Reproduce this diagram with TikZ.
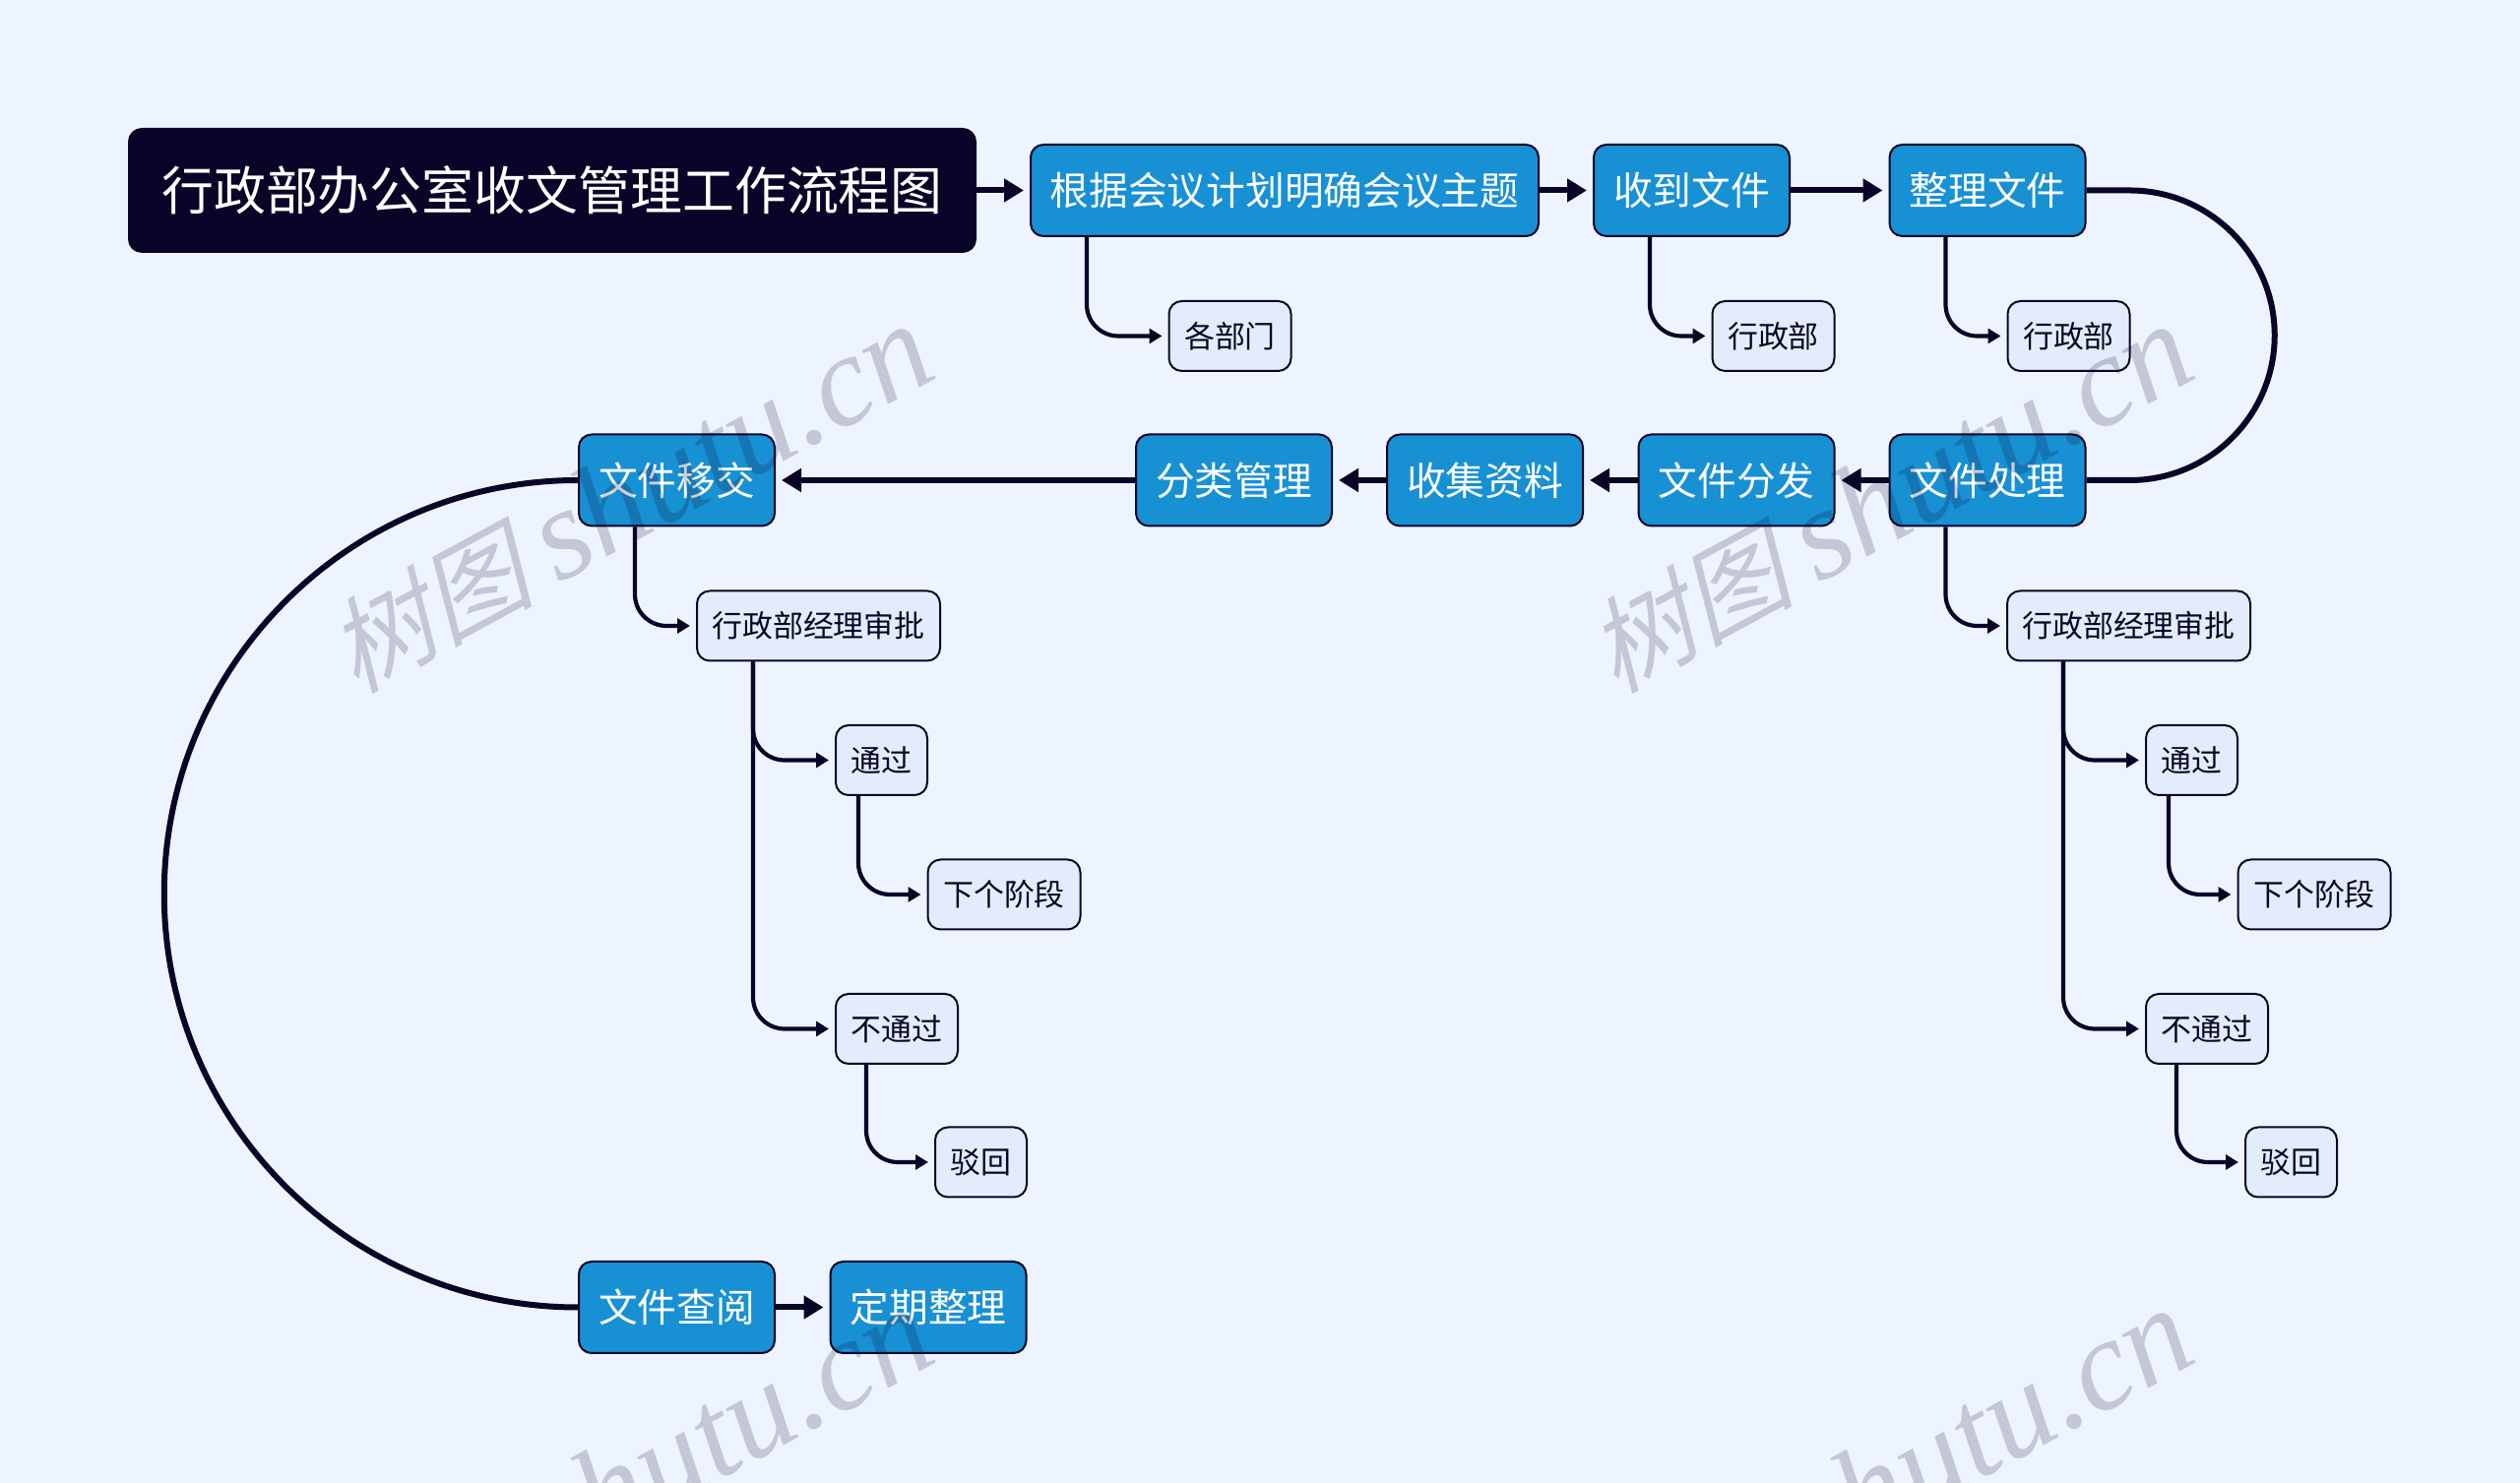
\documentclass[tikz,border=0pt]{standalone}
\usepackage{fontspec}
\setmainfont{Noto Sans CJK SC}
\newfontfamily\markcjk[FakeSlant=0.25]{Noto Sans CJK SC}
\newfontfamily\marklatin{Liberation Serif}
\usetikzlibrary{shapes, arrows.meta}
\definecolor{pagebg}{HTML}{EEF4FF}
\definecolor{ink}{HTML}{0A0528}
\definecolor{mainblue}{HTML}{1890D4}
\definecolor{subfill}{HTML}{E3ECFB}

\begin{document}
\begin{tikzpicture}[
    titlebox/.style = {draw=ink, fill=ink, text=white, rounded corners=0.13cm, line width=0.02cm, inner sep=0, minimum height=1.25cm, font=\fontsize{15.05pt}{18pt}\selectfont},
    mainbox/.style = {draw=ink, fill=mainblue, text=white, rounded corners=0.13cm, line width=0.02cm, inner sep=0, minimum height=0.93cm, font=\fontsize{11.3pt}{14pt}\selectfont},
    subbox/.style = {draw=ink, fill=subfill, text=ink, rounded corners=0.13cm, line width=0.02cm, inner sep=0, minimum height=0.71cm, font=\fontsize{8.8pt}{11pt}\selectfont},
    mainline/.style = {draw=ink, line width=0.06cm, -{Triangle[length=0.2cm, width=0.23cm]}, shorten >=0.06cm},
    curveline/.style = {draw=ink, line width=0.06cm},
    subline/.style = {draw=ink, line width=0.042cm, rounded corners=0.32cm, -{Triangle[length=0.13cm, width=0.15cm]}, shorten >=0.06cm},
    wmark/.style = {rotate=28.5, text=ink, text opacity=0.19, inner sep=0}]
                \useasboundingbox (0, 0) rectangle (25.6, 15.07);
                \fill[pagebg] (0, 0) rectangle (25.6, 15.07);
                \clip (0, 0) rectangle (25.6, 15.07);

                \node[titlebox, minimum width=8.6cm] at (5.61, 13.135) (title) {行政部办公室收文管理工作流程图};
                \node[mainbox, minimum width=5.16cm] at (13.05, 13.135) (plan) {根据会议计划明确会议主题};
                \node[mainbox, minimum width=1.99cm] at (17.185, 13.135) (receive) {收到文件};
                \node[mainbox, minimum width=1.99cm] at (20.19, 13.135) (sort) {整理文件};
                \node[mainbox, minimum width=1.99cm] at (20.19, 10.19) (handle) {文件处理};
                \node[mainbox, minimum width=1.99cm] at (17.64, 10.19) (send) {文件分发};
                \node[mainbox, minimum width=1.99cm] at (15.085, 10.19) (collect) {收集资料};
                \node[mainbox, minimum width=1.99cm] at (12.535, 10.19) (classify) {分类管理};
                \node[mainbox, minimum width=1.99cm] at (6.875, 10.19) (transfer) {文件移交};
                \node[mainbox, minimum width=1.99cm] at (6.875, 1.785) (consult) {文件查阅};
                \node[mainbox, minimum width=1.99cm] at (9.43, 1.785) (tidy) {定期整理};

                \node[subbox, minimum width=1.24cm] at (12.495, 11.655) (depts) {各部门};
                \node[subbox, minimum width=1.24cm] at (18.015, 11.655) (adminA) {行政部};
                \node[subbox, minimum width=1.24cm] at (21.015, 11.655) (adminB) {行政部};

                \node[subbox, minimum width=2.47cm] at (21.625, 8.71) (approveR) {行政部经理审批};
                \node[subbox, minimum width=0.93cm] at (22.265, 7.345) (passR) {通过};
                \node[subbox, minimum width=1.55cm] at (23.51, 5.98) (nextR) {下个阶段};
                \node[subbox, minimum width=1.24cm] at (22.42, 4.615) (failR) {不通过};
                \node[subbox, minimum width=0.93cm] at (23.275, 3.26) (rejectR) {驳回};

                \node[subbox, minimum width=2.47cm] at (8.315, 8.71) (approveL) {行政部经理审批};
                \node[subbox, minimum width=0.93cm] at (8.955, 7.345) (passL) {通过};
                \node[subbox, minimum width=1.55cm] at (10.2, 5.98) (nextL) {下个阶段};
                \node[subbox, minimum width=1.24cm] at (9.11, 4.615) (failL) {不通过};
                \node[subbox, minimum width=0.93cm] at (9.965, 3.26) (rejectL) {驳回};

                \draw [mainline] (title) -- (plan);
                \draw [mainline] (plan) -- (receive);
                \draw [mainline] (receive) -- (sort);
                \draw [mainline] (handle) -- (send);
                \draw [mainline] (send) -- (collect);
                \draw [mainline] (collect) -- (classify);
                \draw [mainline] (classify) -- (transfer);
                \draw [mainline] (consult) -- (tidy);

                \draw [curveline] (sort.east) -- ++(0.44, 0) arc[start angle=90, end angle=-90, radius=1.4725] -- (handle.east);
                \draw [curveline] (transfer.west) arc[start angle=90, end angle=270, radius=4.2025];

                \draw [subline] ([xshift=0.58cm]plan.south west) |- (depts.west);
                \draw [subline] ([xshift=0.58cm]receive.south west) |- (adminA.west);
                \draw [subline] ([xshift=0.58cm]sort.south west) |- (adminB.west);

                \draw [subline] ([xshift=0.58cm]handle.south west) |- (approveR.west);
                \draw [subline] ([xshift=0.58cm]approveR.south west) |- (passR.west);
                \draw [subline] ([xshift=0.58cm]approveR.south west) |- (failR.west);
                \draw [subline] ([xshift=0.24cm]passR.south west) |- (nextR.west);
                \draw [subline] ([xshift=0.32cm]failR.south west) |- (rejectR.west);

                \draw [subline] ([xshift=0.58cm]transfer.south west) |- (approveL.west);
                \draw [subline] ([xshift=0.58cm]approveL.south west) |- (passL.west);
                \draw [subline] ([xshift=0.58cm]approveL.south west) |- (failL.west);
                \draw [subline] ([xshift=0.24cm]passL.south west) |- (nextL.west);
                \draw [subline] ([xshift=0.32cm]failL.south west) |- (rejectL.west);

                \foreach \mx/\my/\mname in {6.39/10.0/wmA, 19.19/10.0/wmB, 6.39/0.0/wmC, 19.19/0.0/wmD}
                    \node[wmark] at (\mx, \my) (\mname) {\fontsize{30pt}{36pt}\markcjk 树图 \fontsize{37.5pt}{42pt}\marklatin\itshape shutu.cn};
                \end{tikzpicture}
\end{document}
